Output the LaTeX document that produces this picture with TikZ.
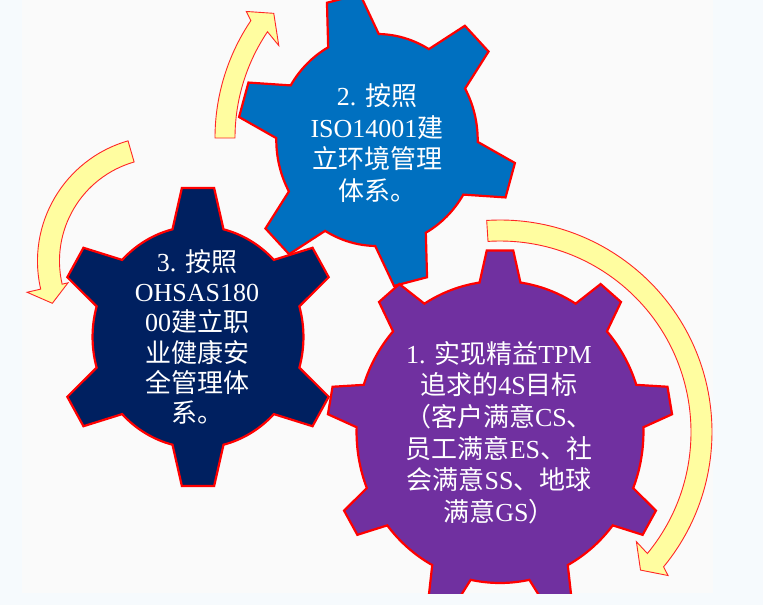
\documentclass[tikz,border=0pt]{standalone}
\usepackage{fontspec}
\setmainfont{Liberation Serif}
\newfontfamily\cjk{Noto Sans CJK SC}
\newcommand{\zh}[1]{{\cjk #1}}
\definecolor{gearblue}{RGB}{0,112,192}
\definecolor{gearnavy}{RGB}{0,32,96}
\definecolor{gearpurple}{RGB}{112,48,160}
\definecolor{arrowyellow}{RGB}{255,253,160}
\definecolor{pagebg}{RGB}{246,250,253}
\definecolor{slidebg}{RGB}{250,250,250}
\tikzset{
  gear/.style={draw=red, line width=2.2pt, line join=miter},
  cyclearrow/.style={draw=red!85!white, line width=0.9pt, fill=arrowyellow, line join=miter},
  gtext/.style={text=white, align=center, inner sep=0pt, font=\fontsize{26}{31.7}\selectfont}
}
% colour, centre, teeth, first tooth, tip r, root r, tip half angle, base half angle
\newcommand{\drawgear}[8]{%
  \filldraw[gear, fill=#1, shift={#2}, xscale=0.95] ({#4-#8}:#6)
    \foreach \k in {1,...,#3}{
      -- ({#4+(\k-1)*360/#3-#7}:#5) -- ({#4+(\k-1)*360/#3+#7}:#5) -- ({#4+(\k-1)*360/#3+#8}:#6)
      arc[start angle={#4+(\k-1)*360/#3+#8}, end angle={#4+\k*360/#3-#8}, radius=#6]
    } -- cycle;}
\begin{document}
\begin{tikzpicture}[x=1pt, y=1pt]
\useasboundingbox (0,0) rectangle (763,-605);
\fill[pagebg] (0,0) rectangle (763,-605);
\fill[slidebg] (22,0) rectangle (713,-593);
\begin{scope}
\clip (22,0) rectangle (713,-593);
% arrows
\begin{scope}[shift={(500,-432)}]
\filldraw[cyclearrow] (93.6:212) arc[start angle=93.6, end angle=-39.5, radius=212] -- (-40.5:221) -- (-44.5:197) -- (-38.8:175) -- (-39.5:191) arc[start angle=-39.5, end angle=93.6, radius=191] -- cycle;
\end{scope}
\begin{scope}[shift={(425,-138)}]
\filldraw[cyclearrow] (180:210) arc[start angle=180, end angle=146, radius=210] -- (144.7:219) -- (140.5:196) -- (147.7:173) -- (146:190) arc[start angle=146, end angle=180, radius=190] -- cycle;
\end{scope}
\begin{scope}[shift={(162.5,-261)}]
\filldraw[cyclearrow] (106:125) arc[start angle=106, end angle=193, radius=125] -- (193:139) -- (201:118) -- (193:97) -- (193:103) arc[start angle=193, end angle=106, radius=103] -- cycle;
\end{scope}
% gears
\drawgear{gearnavy}{(198,-337)}{6}{90}{150}{111}{6.5}{14}
\drawgear{gearblue}{(377,-140)}{6}{104}{147}{106}{7}{15}
\drawgear{gearpurple}{(500,-432)}{9}{90}{182}{151}{4.4}{8.2}
\end{scope}
\node[gtext] (g2) at (377,-143) {2. \zh{按照}\\ISO14001\zh{建}\\\zh{立环境管理}\\\zh{体系。}};
\node[gtext, font=\fontsize{26}{30.3}\selectfont] (g3) at (197,-337) {3. \zh{按照}\\OHSAS180\\00\zh{建立职}\\\zh{业健康安}\\\zh{全管理体}\\\zh{系。}};
\node[gtext] (g1) at (499,-432.5) {1. \zh{实现精益}TPM\\\zh{追求的}4S\zh{目标}\\\zh{（客户满意}CS\zh{、}\\\zh{员工满意}ES\zh{、社}\\\zh{会满意}SS\zh{、地球}\\\zh{满意}GS\zh{）}};
\end{tikzpicture}
\end{document}
